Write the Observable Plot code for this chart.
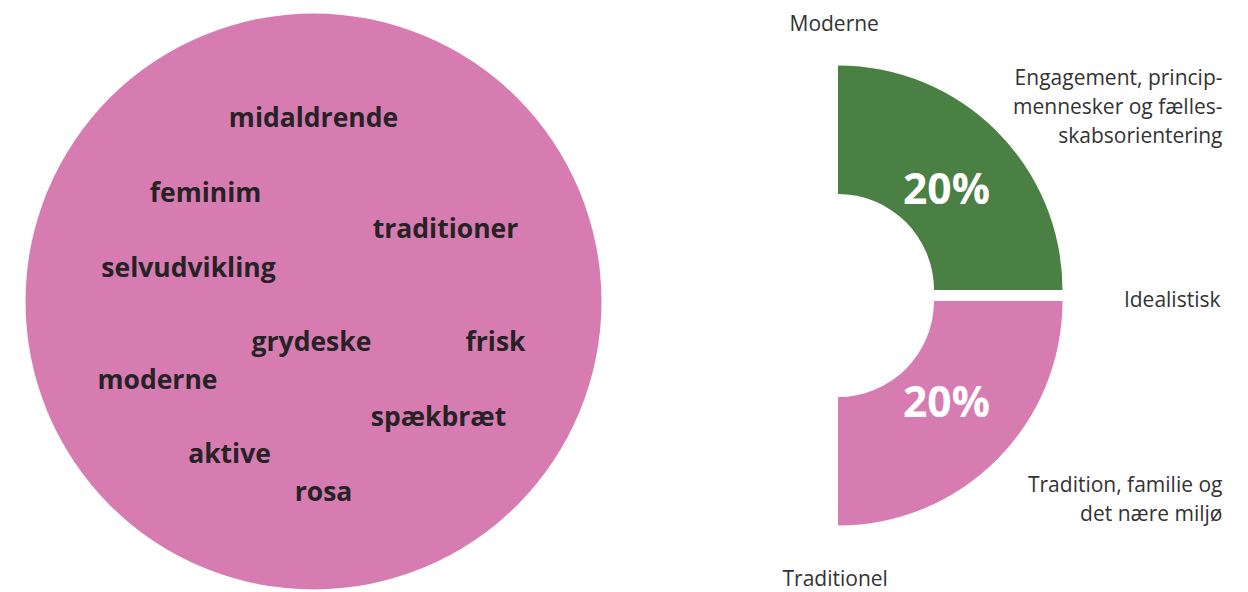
<!DOCTYPE html>
<html>
<head>
<meta charset="utf-8">
<script src="https://cdn.jsdelivr.net/npm/d3@7"></script>
<script src="https://cdn.jsdelivr.net/npm/@observablehq/plot@0.6"></script>
<style>
  html, body { margin: 0; padding: 0; background: #fff; }
  #chart { width: 1248px; height: 592px; }
</style>
</head>
<body>
<div id="chart"></div>
<script>
// ---------- data ----------
const words = ["midaldrende", "feminim", "traditioner", "selvudvikling", "grydeske",
               "frisk", "moderne", "spækbræt", "aktive", "rosa"];
const segments = ["Engagement, princip-\nmennesker og fælles-\nskabsorientering",
                  "Tradition, familie og\ndet nære miljø"];
const shares = [20, 20];
const poles = ["Moderne", "Traditionel"];
const midLabel = ["Idealistisk"];

// ---------- layout (chart units = pixels) ----------
const W = 1248, H = 592;
const cloud = {cx: 313, cy: 301, r: 288};
const wordLayout = [[313, 126], [205, 201], [445, 237], [188, 276], [311, 350],
                    [495, 350], [157, 388], [438, 425], [229, 462], [323, 500]];
const ring = {cx: 838, cy: [290, 301], r0: 96, r1: 224.5};
const pctOffset = [108, 103];          // label offset from ring centre
const segAngles = [[0, Math.PI / 2], [Math.PI / 2, Math.PI]];
const segColors = ["#4a8043", "#d67cb1"];
const pink = "#d67cb1";
const ink = "#262226";
const grey = "#333333";

const wordData = words.map((w, i) => ({word: w, x: wordLayout[i][0], y: wordLayout[i][1]}));
const segData = segments.map((s, i) => ({
  label: s, share: shares[i], color: segColors[i],
  cx: ring.cx, cy: ring.cy[i], a0: segAngles[i][0], a1: segAngles[i][1],
  lx: ring.cx + pctOffset[0],
  ly: ring.cy[i] + (i === 0 ? -1 : 1) * pctOffset[1] - (i === 0 ? 0 : 0)
}));
// green label sits above its centre, pink below; adjust for text metrics
segData[0].ly = ring.cy[0] - pctOffset[1] + 3;
segData[1].ly = ring.cy[1] + pctOffset[1] - 1;
const pctText = d => `${d.share}%`;

const sideLabels = [
  {text: segments[0], x: 1222, y: 142},
  {text: segments[1], x: 1222, y: 520},
  {text: midLabel[0], x: 1220, y: 306}
];
const poleLabels = [
  {text: poles[0], x: 789, y: 30},
  {text: poles[1], x: 782, y: 585}
];

function wedges(index, scales) {
  const g = d3.create("svg:g");
  const arc = d3.arc();
  for (const d of segData) {
    const cx = scales.x(d.cx), cy = scales.y(d.cy);
    const k = scales.x(d.cx + 1) - scales.x(d.cx);
    g.append("path")
      .attr("transform", `translate(${cx},${cy})`)
      .attr("fill", d.color)
      .attr("d", arc({innerRadius: ring.r0 * k, outerRadius: ring.r1 * k, startAngle: d.a0, endAngle: d.a1}));
  }
  return g.node();
}

const chart = Plot.plot({
  width: W,
  height: H,
  margin: 0,
  x: {domain: [0, W], range: [0, W], axis: null},
  y: {domain: [0, H], range: [0, H], axis: null},
  style: {fontFamily: "'Open Sans', sans-serif", background: "#fff"},
  marks: [
    Plot.dot([cloud], {x: "cx", y: "cy", r: cloud.r, fill: pink, stroke: null}),
    Plot.text(wordData, {x: "x", y: "y", text: "word", fontSize: 26.5, fontWeight: 700,
      fill: ink, textAnchor: "middle", lineAnchor: "bottom", fontFamily: "Open Sans"}),
    wedges,
    Plot.text(segData, {x: "lx", y: "ly", text: pctText, fontSize: 42.5, fontWeight: 700,
      fill: "#fff", textAnchor: "middle", lineAnchor: "middle", fontFamily: "Open Sans"}),
    Plot.text(sideLabels, {x: "x", y: "y", text: "text", fontSize: 21, lineHeight: 1.38,
      fill: grey, textAnchor: "end", lineAnchor: "bottom", fontFamily: "Open Sans"}),
    Plot.text(poleLabels, {x: "x", y: "y", text: "text", fontSize: 21,
      fill: grey, textAnchor: "start", lineAnchor: "bottom", fontFamily: "Open Sans"})
  ]
});
document.getElementById("chart").appendChild(chart);
</script>
</body>
</html>
